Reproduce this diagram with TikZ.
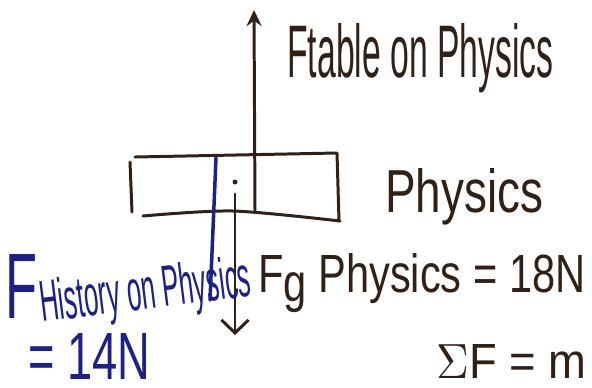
\documentclass[tikz,border=0pt]{standalone}
\usepackage{fontspec}
\setmainfont{Liberation Sans}
\usetikzlibrary{arrows.meta}
\definecolor{inkbrown}{RGB}{48,32,22}
\definecolor{inkblue}{RGB}{28,32,135}
\newlength{\pxu}\setlength{\pxu}{0.02cm}
\newcommand{\handtext}[3]{\resizebox{#1\pxu}{#2\pxu}{#3}}
\tikzset{
  pen/.style={inkbrown, line width=1.7pt, line cap=round, line join=round},
  bluepen/.style={inkblue, line width=2pt, line cap=round},
  force/.style={pen, -{Stealth[length=3.2mm,width=3mm]}},
  weight/.style={pen, -{Straight Barb[length=2.6mm,width=5.4mm]}},
  inklabel/.style={inner sep=0pt, anchor=base west, text=inkbrown},
  bluelabel/.style={inklabel, text=inkblue}
}

\begin{document}
\begin{tikzpicture}[x=0.02cm,y=-0.02cm]
  \useasboundingbox (0,0) rectangle (592,387);
  \clip (0,0) rectangle (592,387);

  % The book, drawn by hand
  \draw[pen] (135,157) -- (337,153) -- (339,221);
  \draw[pen] (130,162) -- (132,212);
  \draw[pen] plot[smooth] coordinates {(143,216) (233,211) (340,221)};
  \node[circle, fill=inkbrown, inner sep=0pt, minimum size=0.1cm] (cm) at (235,182) {};

  % Force arrows
  \coordinate (upbase) at (255,211);
  \coordinate (uptip) at (254,10);
  \coordinate (downtip) at (235,335);
  \coordinate (histtop) at (216,158);
  \coordinate (histend) at (210,300);
  \draw[force] (upbase) -- (uptip);
  \draw[weight] ([yshift=-0.24cm]cm.center) -- (downtip);
  \draw[bluepen] (histtop) -- (histend);

  % Labels
  \node[inklabel] (ftable) at (287,77) {\handtext{266}{54}{Ftable on Physics}};
  \node[inklabel] (physlabel) at (385,212) {\handtext{158}{44}{Physics}};
  \node[inklabel] (fgrav) at (258,292)
    {\handtext{327}{39}{F\raisebox{-0.35ex}{g} Physics = 18N}};
  \node[bluelabel] (fhist) at (5,318) {\handtext{32}{64}{F}};
  \node[bluelabel, rotate=7] (fhistsub) at (42,322)
    {\handtext{212}{42}{History on Physics}};
  \node[bluelabel] (fhistval) at (28,379) {\handtext{122}{46}{= 14N}};
  \node[inklabel] (sumf) at (436,378) {\handtext{150}{34}{$\Sigma$F = m}};
\end{tikzpicture}
\end{document}
